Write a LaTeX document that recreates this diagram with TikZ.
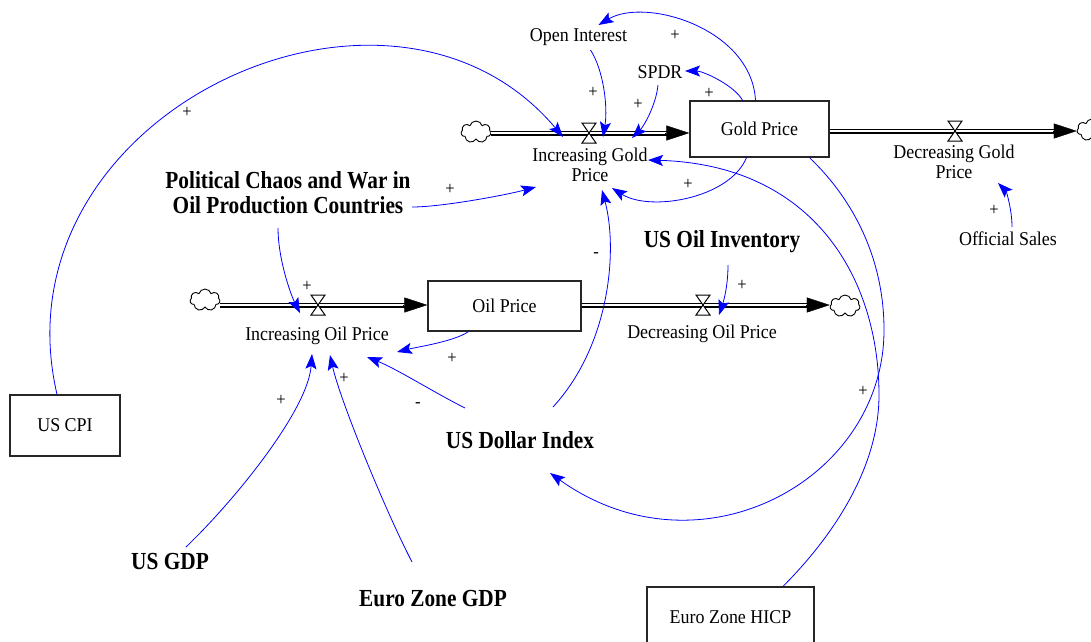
\documentclass[tikz,border=0pt]{standalone}
\usepackage{fontspec}
\setmainfont{Liberation Serif}
\newfontfamily\lblfont[FakeStretch=0.92]{Liberation Serif}
\newfontfamily\bfont[FakeStretch=0.87]{Liberation Serif}
\usetikzlibrary{arrows.meta,shapes.symbols,calc}

\tikzset{
  lbl/.style={font=\lblfont\fontsize{19.5}{20}\selectfont, align=center, inner sep=0pt},
  blbl/.style={font=\bfont\bfseries\fontsize{24.5}{25}\selectfont, align=center, inner sep=0pt},
  sgn/.style={font=\lblfont\fontsize{18}{18}\selectfont, inner sep=0pt},
  stock/.style={lbl, draw=black!85, line width=1.3pt, fill=white},
  cloudy/.style={cloud, cloud puffs=7, aspect=1.35, draw=black, line width=0.9pt, fill=white,
                 minimum width=30pt, minimum height=22pt, inner sep=0pt},
  pipe/.style={draw=black, line width=1.2pt, double=white, double distance=2.6pt},
  pipetip/.style={draw=black, line width=0.4pt, -{Triangle[length=23pt,width=15pt]}},
  link/.style={draw=blue, line width=0.8pt, -{Stealth[length=15pt,width=11pt,inset=3pt]}},
  valve/.pic={\filldraw[fill=white, draw=black, line width=1pt]
               (-7,-10) -- (7,-10) -- (-7,10) -- (7,10) -- cycle;}
}

\begin{document}
\begin{tikzpicture}[x=1pt,y=-1pt]
\fill[white] (0,0) rectangle (1091,641);
\useasboundingbox (0,0) rectangle (1091,641);

% ---- gold price stock and its flows
\node[stock, minimum width=139pt, minimum height=56pt] (gp) at (759.5,129) {Gold Price};
\node[cloudy] (c1) at (476,132) {};
\node[cloudy] (c2) at (1092,130) {};
\coordinate (vg1) at (589,133);
\coordinate (vg2) at (955,131);
\draw[pipe] (c1.east |- vg1) -- ($(gp.west |- vg1)+(-12,0)$);
\draw[pipetip] ($(gp.west |- vg1)+(-24,0)$) -- (gp.west |- vg1);
\draw[pipe] (gp.east |- vg2) -- ($(c2.west |- vg2)+(-12,0)$);
\draw[pipetip] ($(c2.west |- vg2)+(-24,0)$) -- (c2.west |- vg2);
\pic at (vg1) {valve};
\pic at (vg2) {valve};
\node[lbl] (igp) at (590,165) {Increasing Gold\\Price};
\node[lbl] (dgp) at (954,162) {Decreasing Gold\\Price};

% ---- oil price stock and its flows
\node[stock, minimum width=153pt, minimum height=50pt] (op) at (504.5,306) {Oil Price};
\node[cloudy] (c3) at (205,300) {};
\node[cloudy] (c4) at (845,306) {};
\coordinate (vo1) at (318,305);
\coordinate (vo2) at (703,305);
\draw[pipe] (c3.east |- vo1) -- ($(op.west |- vo1)+(-12,0)$);
\draw[pipetip] ($(op.west |- vo1)+(-24,0)$) -- (op.west |- vo1);
\draw[pipe] (op.east |- vo2) -- ($(c4.west |- vo2)+(-12,0)$);
\draw[pipetip] ($(c4.west |- vo2)+(-24,0)$) -- (c4.west |- vo2);
\pic at (vo1) {valve};
\pic at (vo2) {valve};
\node[lbl] (iop) at (317,336) {Increasing Oil Price};
\node[lbl] (dop) at (702,334) {Decreasing Oil Price};

% ---- auxiliaries and constants
\node[lbl] (oi) at (578.5,37) {Open Interest};
\node[lbl] (spdr) at (660,72) {SPDR};
\node[lbl] (os) at (1008,239) {Official Sales};
\node[blbl] (pc) at (288,193) {Political Chaos and War in\\Oil Production Countries};
\node[blbl] (uoi) at (722,242) {US Oil Inventory};
\node[blbl] (udi) at (520,440) {US Dollar Index};
\node[stock, minimum width=110pt, minimum height=61pt] (cpi) at (65,425.5) {US CPI};
\node[blbl] (usgdp) at (170,561) {US GDP};
\node[blbl] (ezgdp) at (433,599) {Euro Zone GDP};
\node[stock, minimum width=167pt, minimum height=60pt] (hicp) at (730.5,617) {Euro Zone HICP};

% ---- causal links
\draw[link] ($(cpi.north)+(-8,0)$) .. controls +(-65,-280) and +(-174,-207) .. ($(igp)+(-27,-28)$);
\draw[link] ($(oi)+(12,13)$) .. controls +(13,20) and +(5,-30) .. ($(igp)+(13,-28)$);
\draw[link] ($(spdr)+(-2,13)$) .. controls +(-2,20) and +(12,-12) .. ($(igp)+(42,-27)$);
\draw[link] ($(gp.north)+(-17,0)$) .. controls +(-8,-15) and +(18,0) .. ($(spdr)+(25,-1)$);
\draw[link] ($(gp.north)+(-4,0)$) .. controls +(-4,-72) and +(47,-28) .. ($(oi)+(20,-12)$);
\draw[link] ($(gp.south)+(-13,0)$) .. controls +(-17,41) and +(38,24) .. ($(igp)+(22,23)$);
\draw[link] ($(hicp.north)+(52.5,0)$) .. controls +(47,-47) and +(0,75) .. (879,395)
            .. controls +(0,-115) and +(167,5) .. ($(igp)+(58,-5)$);
\draw[link] ($(gp.south)+(50,0)$) .. controls +(45,43) and +(0,-70) .. (884,330)
            .. controls +(0,150) and +(150,107) .. ($(udi)+(30,33)$);
\draw[link] ($(pc)+(124,14)$) .. controls +(30,0) and +(-30,8) .. ($(igp)+(-54,22)$);
\draw[link] ($(pc)+(-10,35)$) .. controls +(0,30) and +(-10,-20) .. ($(iop)+(-17,-23)$);
\draw[link] ($(udi)+(33,-33)$) .. controls +(57,-62) and +(16,60) .. ($(igp)+(12,25)$);
\draw[link] ($(udi)+(-55,-32)$) .. controls +(-30,-15) and +(30,12) .. ($(iop)+(50,21)$);
\draw[link] ($(op.south)+(-36,0)$) .. controls +(-15,10) and +(20,-5) .. ($(iop)+(80,16)$);
\draw[link] ($(usgdp)+(16,-14)$) .. controls +(49,-47) and +(-4,56) .. ($(iop)+(-5,18)$);
\draw[link] ($(ezgdp)+(-21,-37)$) .. controls +(-27,-52) and +(10,45) .. ($(iop)+(13,19)$);
\draw[link] ($(uoi)+(6,23)$) .. controls +(0,20) and +(5,-15) .. ($(dop)+(17,-19)$);
\draw[link] ($(os)+(4,-12)$) .. controls +(0,-18) and +(8,8) .. ($(dgp)+(44,21)$);

% ---- link polarities
\node[sgn] (s1) at (187,112) {+};
\node[sgn] (s2) at (593,92) {+};
\node[sgn] (s3) at (638,104) {+};
\node[sgn] (s4) at (709,93) {+};
\node[sgn] (s5) at (675,35) {+};
\node[sgn] (s6) at (688,184) {+};
\node[sgn] (s7) at (450,189) {+};
\node[sgn] (s8) at (307,286) {+};
\node[sgn] (s9) at (452,358) {+};
\node[sgn] (s10) at (344,378) {+};
\node[sgn] (s11) at (281,400) {+};
\node[sgn] (s12) at (742,285) {+};
\node[sgn] (s13) at (994,210) {+};
\node[sgn] (s14) at (863,391) {+};
\node[sgn] (m1) at (596,255) {-};
\node[sgn] (m2) at (418,405) {-};
\end{tikzpicture}
\end{document}
